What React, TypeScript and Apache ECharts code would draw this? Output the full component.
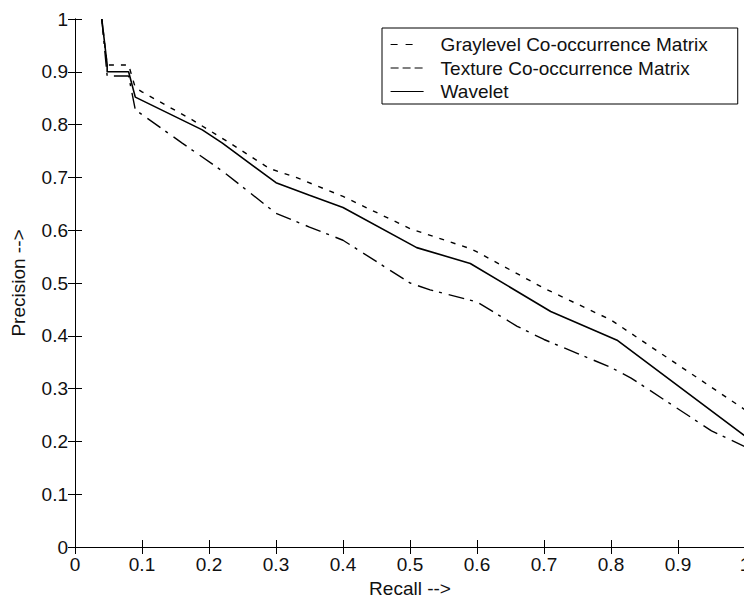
import React, { useEffect, useRef } from "react";
import * as echarts from "echarts";

const xTicks = [0, 0.1, 0.2, 0.3, 0.4, 0.5, 0.6, 0.7, 0.8, 0.9, 1];
const yTicks = [0, 0.1, 0.2, 0.3, 0.4, 0.5, 0.6, 0.7, 0.8, 0.9, 1];

const seriesNames = [
  "Graylevel Co-occurrence Matrix",
  "Texture Co-occurrence Matrix",
  "Wavelet",
];

const grayRecall = [0.04, 0.048, 0.08, 0.09, 0.16, 0.22, 0.3, 0.35, 0.4, 0.5, 0.53, 0.6, 0.66, 0.7, 0.8, 0.83, 0.95, 1.0];
const grayPrecision = [1.0, 0.892, 0.892, 0.828, 0.765, 0.712, 0.632, 0.606, 0.581, 0.5, 0.487, 0.464, 0.418, 0.393, 0.34, 0.32, 0.22, 0.19];

const textureRecall = [0.04, 0.048, 0.08, 0.09, 0.1, 0.175, 0.23, 0.29, 0.33, 0.4, 0.5, 0.59, 0.6, 0.7, 0.8, 1.0];
const texturePrecision = [1.0, 0.913, 0.913, 0.87, 0.862, 0.809, 0.766, 0.717, 0.7, 0.664, 0.603, 0.565, 0.559, 0.49, 0.43, 0.26];

const waveletRecall = [0.04, 0.048, 0.048, 0.08, 0.09, 0.19, 0.22, 0.3, 0.35, 0.4, 0.51, 0.59, 0.71, 0.81, 1.0];
const waveletPrecision = [1.0, 0.913, 0.9, 0.9, 0.852, 0.79, 0.765, 0.69, 0.666, 0.643, 0.567, 0.537, 0.446, 0.391, 0.21];

const zip = (xs: number[], ys: number[]) => xs.map((x, i) => [x, ys[i]]);
const fmt = (v: number) => String(Math.round(v * 10) / 10);

const FONT = "'Liberation Sans', Arial, sans-serif";

export default function App() {
  const ref = useRef<HTMLDivElement>(null);
  useEffect(() => {
    document.body.style.margin = "0";
    const chart = echarts.init(ref.current!, null, { renderer: "svg" });
    const axisLine = { show: true, lineStyle: { color: "#000", width: 1 } };
    const tick = { show: true, inside: true, length: 7, lineStyle: { color: "#000" } };
    const label = { color: "#111", fontSize: 19, fontFamily: FONT };
    chart.setOption({
      animation: false,
      backgroundColor: "#fff",
      grid: { left: 75, top: 19, width: 670, height: 528, containLabel: false, outerBoundsMode: "none" },
      legend: {
        orient: "vertical",
        left: 382,
        top: 28,
        borderColor: "#000",
        borderWidth: 1,
        borderRadius: 0,
        padding: [7, 30, 3, 8],
        itemWidth: 33,
        itemHeight: 14,
        itemGap: 4.5,
        selectedMode: false,
        itemStyle: { opacity: 0, borderWidth: 0 },
        textStyle: { color: "#111", fontSize: 19, fontFamily: FONT, padding: [0, 0, 0, 12], lineHeight: 19 },
        data: [
          { name: seriesNames[0], lineStyle: { type: [7, 8, 7, 100], width: 1.2, color: "#000" } },
          { name: seriesNames[1], lineStyle: { type: [8, 4], width: 1.2, color: "#000" } },
          { name: seriesNames[2], lineStyle: { type: "solid", width: 1.2, color: "#000" } },
        ],
      },
      xAxis: [
        {
          type: "value",
          min: 0,
          max: 1,
          interval: 0.1,
          position: "bottom",
          axisLine,
          axisTick: tick,
          splitLine: { show: false },
          axisLabel: { ...label, margin: 8, formatter: fmt, showMaxLabel: true, showMinLabel: true },
          name: "Recall -->",
          nameLocation: "middle",
          nameGap: 31,
          nameTextStyle: { ...label },
        },
        {
          type: "value",
          min: 0,
          max: 1,
          interval: 0.1,
          position: "top",
          axisLine,
          axisTick: tick,
          splitLine: { show: false },
          axisLabel: { show: false },
        },
      ],
      yAxis: [
        {
          type: "value",
          min: 0,
          max: 1,
          interval: 0.1,
          position: "left",
          axisLine,
          axisTick: tick,
          splitLine: { show: false },
          axisLabel: { ...label, margin: 7, formatter: fmt },
          name: "Precision -->",
          nameLocation: "middle",
          nameGap: 47,
          nameTextStyle: { ...label },
        },
        {
          type: "value",
          min: 0,
          max: 1,
          interval: 0.1,
          position: "right",
          axisLine,
          axisTick: tick,
          splitLine: { show: false },
          axisLabel: { show: false },
        },
      ],
      series: [
        {
          name: seriesNames[0],
          type: "line",
          symbol: "none",
          data: zip(grayRecall, grayPrecision),
          lineStyle: { color: "#000", width: 1.4, type: [16, 6, 3, 7] },
          itemStyle: { color: "#000" },
          z: 2,
        },
        {
          name: seriesNames[1],
          type: "line",
          symbol: "none",
          data: zip(textureRecall, texturePrecision),
          lineStyle: { color: "#000", width: 1.4, type: [5, 7] },
          itemStyle: { color: "#000" },
          z: 2,
        },
        {
          name: seriesNames[2],
          type: "line",
          symbol: "none",
          data: zip(waveletRecall, waveletPrecision),
          lineStyle: { color: "#000", width: 1.6, type: "solid" },
          itemStyle: { color: "#000" },
          z: 3,
        },
      ],
    });
    return () => chart.dispose();
  }, []);
  return <div ref={ref} style={{ width: 744, height: 601 }} />;
}
